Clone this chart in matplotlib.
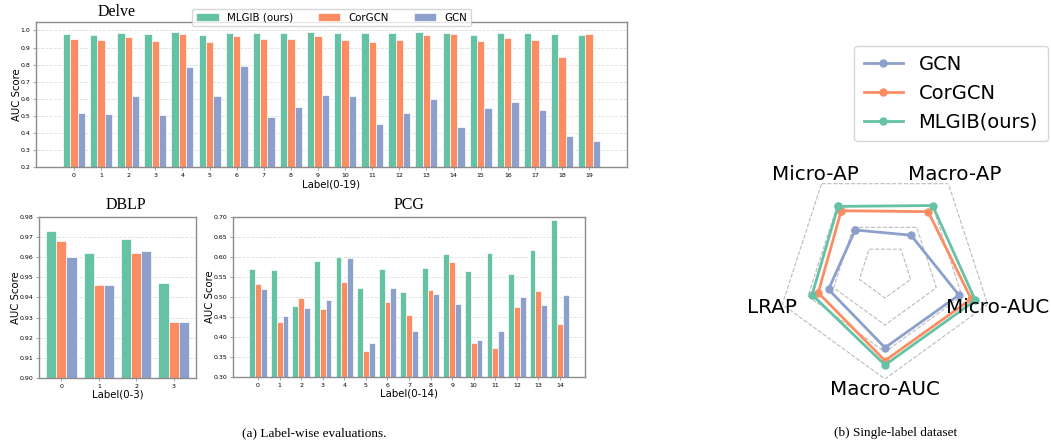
import numpy as np
import matplotlib.pyplot as plt

# colours (Set2)
C_MLGIB = '#66c2a5'
C_COR = '#fc8d62'
C_GCN = '#8da0cb'

# Delve, labels 0-19
delve_labels = list(range(20))
delve_mlgib = [0.977, 0.973, 0.988, 0.982, 0.990, 0.975, 0.984, 0.988, 0.988, 0.990,
               0.984, 0.984, 0.984, 0.990, 0.986, 0.973, 0.984, 0.984, 0.979, 0.975]
delve_cor = [0.953, 0.944, 0.959, 0.938, 0.977, 0.930, 0.967, 0.953, 0.953, 0.965,
             0.947, 0.932, 0.947, 0.971, 0.977, 0.940, 0.955, 0.946, 0.842, 0.982]
delve_gcn = [0.516, 0.512, 0.617, 0.504, 0.784, 0.615, 0.792, 0.494, 0.551, 0.623,
             0.619, 0.453, 0.514, 0.597, 0.432, 0.547, 0.584, 0.537, 0.383, 0.354]

# DBLP, labels 0-3
dblp_labels = list(range(4))
dblp_mlgib = [0.973, 0.962, 0.969, 0.947]
dblp_cor = [0.968, 0.946, 0.962, 0.928]
dblp_gcn = [0.960, 0.946, 0.963, 0.928]

# PCG, labels 0-14
pcg_labels = list(range(15))
pcg_mlgib = [0.570, 0.568, 0.478, 0.591, 0.600, 0.523, 0.570, 0.512, 0.572, 0.608,
             0.564, 0.609, 0.558, 0.617, 0.693]
pcg_cor = [0.532, 0.438, 0.498, 0.471, 0.538, 0.364, 0.488, 0.454, 0.517, 0.587,
           0.384, 0.372, 0.476, 0.516, 0.433]
pcg_gcn = [0.521, 0.452, 0.473, 0.492, 0.597, 0.384, 0.522, 0.415, 0.507, 0.482,
           0.393, 0.414, 0.500, 0.480, 0.505]

# radar (single-label dataset), normalised radius
radar_metrics = ['Micro-AP', 'Macro-AP', 'Micro-AUC', 'Macro-AUC', 'LRAP']
radar_gcn = [0.47, 0.41, 0.72, 0.71, 0.55]
radar_cor = [0.69, 0.68, 0.84, 0.83, 0.65]
radar_mlgib = [0.74, 0.75, 0.88, 0.87, 0.71]

SERIF = 'Liberation Serif'
W = 0.27

fig = plt.figure(figsize=(10.51, 4.48), dpi=100)


def bar_panel(ax, labels, m, c, g, ylim, yticks, xlim, xlabel, title, tx):
    x = np.array(labels, dtype=float)
    ax.bar(x - W, m, W, color=C_MLGIB, edgecolor='white', linewidth=0.5,
           label='MLGIB (ours)', zorder=2)
    ax.bar(x, c, W, color=C_COR, edgecolor='white', linewidth=0.5,
           label='CorGCN', zorder=2)
    ax.bar(x + W, g, W, color=C_GCN, edgecolor='white', linewidth=0.5,
           label='GCN', zorder=2)
    ax.set_ylim(*ylim)
    ax.set_yticks(yticks)
    ax.set_xlim(*xlim)
    ax.set_xticks(x)
    ax.set_xticklabels([str(l) for l in labels])
    ax.yaxis.grid(True, linestyle='--', color='#dddddd', linewidth=0.6, zorder=0)
    ax.set_axisbelow(True)
    ax.tick_params(labelsize=4.5, length=2, width=0.5, color='0.5', pad=2)
    for s in ax.spines.values():
        s.set_color('0.55')
        s.set_linewidth(1.0)
    ax.set_xlabel(xlabel, fontsize=7.3, labelpad=1)
    ax.set_ylabel('AUC Score', fontsize=7.3, labelpad=-1)
    ax.text(tx[0], tx[1], title, transform=ax.transAxes, ha='center', va='center',
            fontsize=11.5, family=SERIF)


ax1 = fig.add_axes([0.0343, 0.627, 0.5623, 0.324])
bar_panel(ax1, delve_labels, delve_mlgib, delve_cor, delve_gcn, (0.2, 1.05),
          np.arange(0.2, 1.01, 0.1), (-1.4, 20.4), 'Label(0-19)', 'Delve', (0.137, 1.069))
ax1.set_yticklabels(['%.1f' % v for v in np.arange(0.2, 1.01, 0.1)])
ax1.legend(loc='upper center', bbox_to_anchor=(0.5, 1.125), ncol=3, fontsize=7.4,
           frameon=True, edgecolor='#cccccc', handlelength=2.2, columnspacing=2.4,
           borderpad=0.35)

ax2 = fig.add_axes([0.0371, 0.1563, 0.1494, 0.3593])
bar_panel(ax2, dblp_labels, dblp_mlgib, dblp_cor, dblp_gcn, (0.90, 0.98),
          np.arange(0.90, 0.981, 0.01), (-0.6, 3.6), 'Label(0-3)', 'DBLP', (0.554, 1.075))
ax2.set_yticklabels(['%.2f' % v for v in np.arange(0.90, 0.981, 0.01)])

ax3 = fig.add_axes([0.2217, 0.1585, 0.3349, 0.3571])
bar_panel(ax3, pcg_labels, pcg_mlgib, pcg_cor, pcg_gcn, (0.30, 0.70),
          np.arange(0.30, 0.701, 0.05), (-1.16, 15.16), 'Label(0-14)', 'PCG', (0.5, 1.075))
ax3.set_yticklabels(['%.2f' % v for v in np.arange(0.30, 0.701, 0.05)])

# radar chart
axr = fig.add_axes([0.7393, 0.154, 0.2055, 0.482], polar=True)
ang = np.deg2rad(126 - 72 * np.arange(len(radar_metrics)))
ang_c = np.append(ang, ang[0])
for lvl in [0.25, 0.5, 0.75, 1.0]:
    axr.plot(ang_c, [lvl] * len(ang_c), color='#bbbbbb', linestyle='--',
             linewidth=0.8, zorder=1)


def closed(v):
    return list(v) + [v[0]]


axr.plot(ang_c, closed(radar_gcn), color=C_GCN, linewidth=2, marker='o',
         markersize=5, label='GCN', zorder=3)
axr.plot(ang_c, closed(radar_cor), color=C_COR, linewidth=2, marker='o',
         markersize=5, label='CorGCN', zorder=4)
axr.plot(ang_c, closed(radar_mlgib), color=C_MLGIB, linewidth=2, marker='o',
         markersize=5, label='MLGIB(ours)', zorder=5)
axr.set_ylim(0, 1)
axr.set_xticks([])
axr.set_yticks([])
axr.grid(False)
axr.spines['polar'].set_visible(False)
axr.patch.set_alpha(0)
for a, name in zip(ang, radar_metrics):
    axr.text(a, 1.1, name, ha='center', va='center', fontsize=14.3, zorder=6)

h, l = axr.get_legend_handles_labels()
fig.legend(h, l, loc='upper right', bbox_to_anchor=(1.006, 0.92), fontsize=14,
           frameon=True, edgecolor='#cccccc', labelspacing=0.5, borderpad=0.5)

# captions
fig.text(0.299, 0.033, '(a) Label-wise evaluations.', ha='center', va='center',
         fontsize=9.5, family=SERIF)
fig.text(0.852, 0.033, '(b) Single-label dataset', ha='center', va='center',
         fontsize=9.5, family=SERIF)

fig.savefig('out.png', dpi=100)
